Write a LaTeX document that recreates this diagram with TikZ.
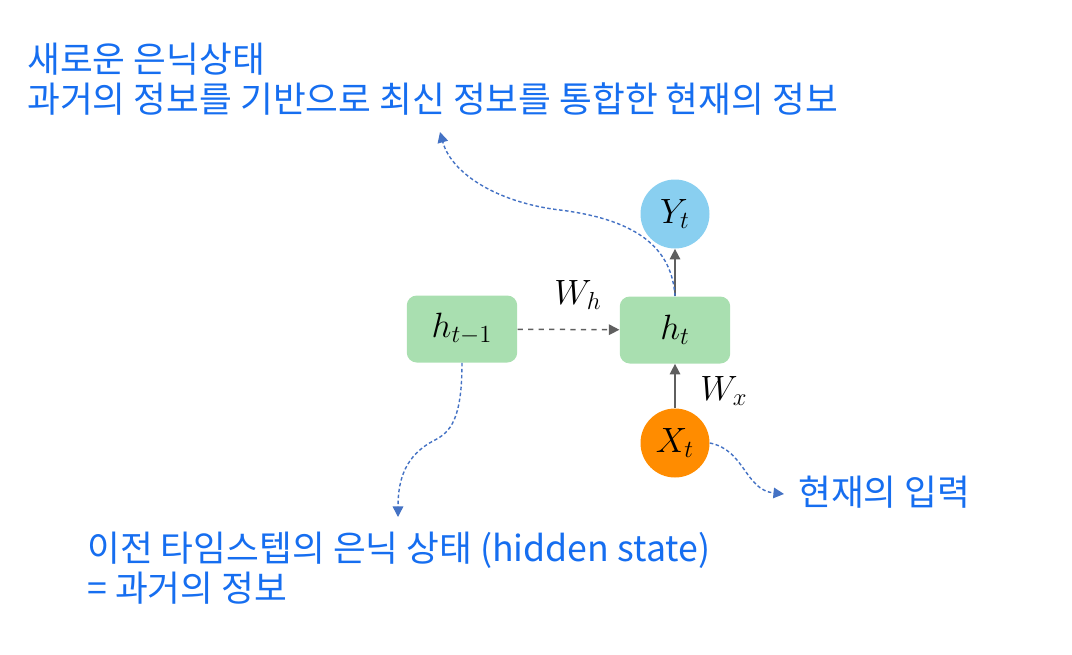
\documentclass[tikz,border=0pt]{standalone}
\usepackage{fix-cm}
\usepackage{fontspec}
\newfontfamily\kr{Noto Sans CJK KR}
\usetikzlibrary{positioning,arrows.meta}
\definecolor{cellgreen}{RGB}{169,223,176}
\definecolor{outblue}{RGB}{137,207,240}
\definecolor{inorange}{RGB}{255,140,0}
\definecolor{notecol}{RGB}{22,110,240}
\definecolor{linkblue}{RGB}{68,114,196}
\definecolor{arrgray}{RGB}{95,95,95}
\begin{document}
\begin{tikzpicture}[x=0.02cm, y=-0.02cm, font=\fontsize{20}{24}\selectfont,
  cell/.style = {fill=cellgreen, rounded corners=0.2cm, minimum width=2.21cm, minimum height=1.34cm},
  unit/.style = {circle, minimum size=1.38cm, inner sep=0pt},
  flow/.style = {draw=arrgray, line width=0.85pt, -{Triangle[length=6pt,width=6pt]}},
  note/.style = {draw=linkblue, line width=0.8pt, dash pattern=on 2pt off 1.4pt, -{Triangle[length=6pt,width=6pt]}},
  label/.style = {text=notecol, font=\kr\fontsize{20.3}{22.7}\selectfont, align=left, inner sep=0pt}]
\useasboundingbox (0,0) rectangle (1072,654);
\node[cell] (ht) at (675,330) {$h_t$};
\node[cell] (hprev) at (462,329) {$h_{t-1}$};
\node[unit, fill=outblue] (yt) at (675,214) {$Y_t$};
\node[unit, fill=inorange] (xt) at (675,443) {$X_t$};
\node (wh) at (578,295) {$W_h$};
\node (wx) at (724,391) {$W_x$};
\draw[flow] (ht) -- (yt);
\draw[flow] (xt) -- (ht);
\draw[flow, dashed] (hprev) -- (ht);
\node[label, anchor=north west] (newstate) at (27,43) {새로운 은닉상태\\과거의 정보를 기반으로 최신 정보를 통합한 현재의 정보};
\node[label, anchor=north west] (oldstate) at (87,532) {이전 타임스텝의 은닉 상태 (hidden state)\\= 과거의 정보};
\node[label, anchor=west] (input) at (798,492) {현재의 입력};
\coordinate (newtip) at (440,132);
\coordinate (oldtip) at (398,517);
\coordinate (intip) at (784,494);
\draw[note] (ht.north) .. controls (672,250) and (640,220) .. (560,210) .. controls (500,203) and (452,175) .. (newtip);
\draw[note] (hprev.south) .. controls (462,420) and (450,432) .. (435,440) .. controls (405,455) and (398,480) .. (oldtip);
\draw[note] (xt.east) .. controls (745,450) and (745,490) .. (intip);
\end{tikzpicture}
\end{document}
